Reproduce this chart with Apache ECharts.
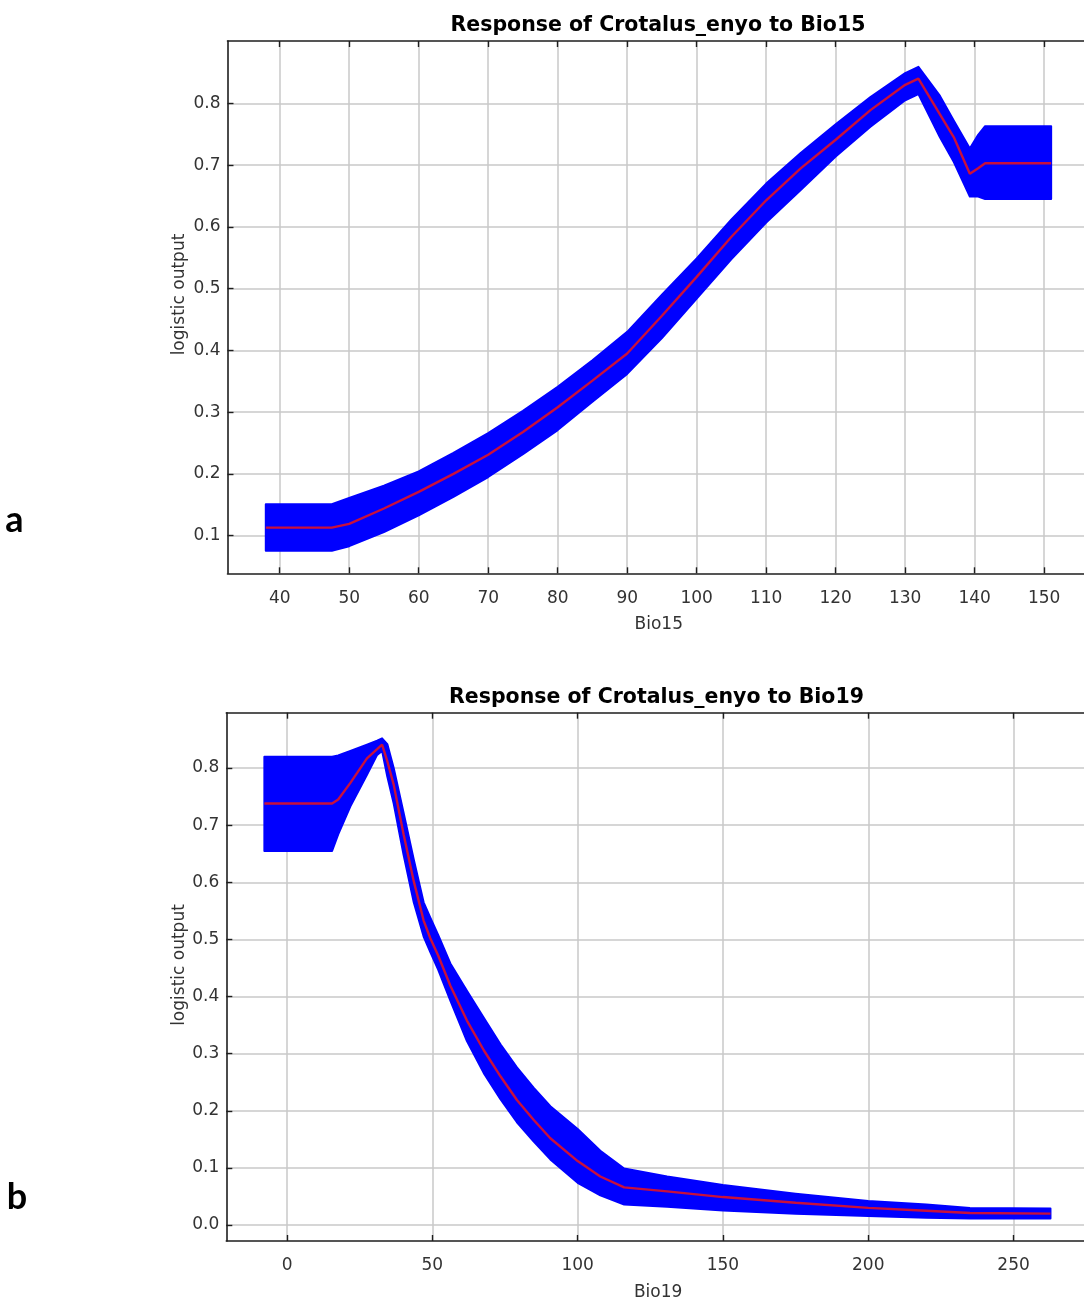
<!DOCTYPE html>
<html><head><meta charset="utf-8">
<script src="https://cdn.jsdelivr.net/npm/echarts@6/dist/echarts.min.js"></script>
<style>html,body{margin:0;padding:0;background:#fff;overflow:hidden}#c{width:1092px;height:1302px}</style>
</head><body><div id="c"></div>
<script>
// ---------- Panel a : Bio15 ----------
const bio15X     = [38, 47.5, 50, 55, 60, 65, 70, 75, 80, 85, 90, 95, 100, 105, 110, 115, 120, 125, 130, 131.9, 135, 137, 139.3, 140.5, 141.5, 151];
const bio15Mean  = [0.113, 0.113, 0.119, 0.144, 0.171, 0.200, 0.231, 0.268, 0.308, 0.351, 0.395, 0.456, 0.519, 0.584, 0.643, 0.695, 0.741, 0.789, 0.830, 0.840, 0.782, 0.745, 0.686, 0.695, 0.703, 0.703];
const bio15Upper = [0.151, 0.151, 0.161, 0.181, 0.204, 0.234, 0.266, 0.302, 0.341, 0.384, 0.430, 0.490, 0.549, 0.612, 0.670, 0.720, 0.766, 0.810, 0.849, 0.859, 0.812, 0.772, 0.727, 0.749, 0.763, 0.763];
const bio15Lower = [0.0757, 0.0757, 0.083, 0.106, 0.133, 0.163, 0.195, 0.232, 0.271, 0.317, 0.362, 0.420, 0.484, 0.548, 0.607, 0.660, 0.714, 0.762, 0.805, 0.815, 0.745, 0.705, 0.649, 0.649, 0.645, 0.645];
const bio15XTicks = [40, 50, 60, 70, 80, 90, 100, 110, 120, 130, 140, 150];
const bio15YTicks = [0.1, 0.2, 0.3, 0.4, 0.5, 0.6, 0.7, 0.8];

// ---------- Panel b : Bio19 ----------
const bio19X     = [-7.8, 15.5, 17.6, 21.8, 27.5, 31.0, 32.7, 34.5, 36.7, 40.1, 43.6, 47.0, 49.3, 52.0, 56.2, 61.9, 67.7, 73.5, 79.1, 84.9, 90.6, 100, 107.8, 116, 130.8, 150, 175, 200, 220, 235, 262.7];
const bio19Mean  = [0.738, 0.738, 0.745, 0.774, 0.817, 0.833, 0.841, 0.812, 0.771, 0.684, 0.602, 0.533, 0.502, 0.472, 0.419, 0.358, 0.306, 0.260, 0.219, 0.184, 0.152, 0.112, 0.085, 0.066, 0.059, 0.049, 0.039, 0.030, 0.025, 0.021, 0.020];
const bio19Upper = [0.820, 0.820, 0.822, 0.830, 0.841, 0.848, 0.852, 0.842, 0.800, 0.722, 0.640, 0.565, 0.538, 0.508, 0.458, 0.410, 0.363, 0.316, 0.276, 0.240, 0.208, 0.168, 0.130, 0.099, 0.085, 0.070, 0.055, 0.042, 0.036, 0.030, 0.029];
const bio19Lower = [0.655, 0.655, 0.684, 0.733, 0.788, 0.823, 0.830, 0.785, 0.738, 0.648, 0.565, 0.505, 0.478, 0.447, 0.393, 0.322, 0.266, 0.220, 0.180, 0.146, 0.115, 0.074, 0.052, 0.036, 0.032, 0.0255, 0.020, 0.0157, 0.013, 0.0115, 0.0115];
const bio19XTicks = [0, 50, 100, 150, 200, 250];
const bio19YTicks = [0.0, 0.1, 0.2, 0.3, 0.4, 0.5, 0.6, 0.7, 0.8];

const titles = ['Response of Crotalus_enyo to Bio15', 'Response of Crotalus_enyo to Bio19'];
const xNames = ['Bio15', 'Bio19'];
const yName = 'logistic output';
const panelLabels = ['a', 'b'];

const FONT = 'DejaVu Sans';
const AXIS_COLOR = '#1e1e1e';
const GRID_COLOR = '#c8c8c8';
const BAND = '#0000ff';
const MEAN = '#c8103c';

const chart = echarts.init(document.getElementById('c'), null, {renderer: 'canvas'});

function xAxes(gi, min, max, ticks, name) {
  return [{
    gridIndex: gi, type: 'value', position: 'bottom', min, max,
    name, nameLocation: 'middle', nameGap: 43,
    nameTextStyle: {fontFamily: FONT, fontSize: 17, color: '#333'},
    axisLine: {show: true, onZero: false, lineStyle: {color: AXIS_COLOR, width: 1.6}},
    axisTick: {show: true, inside: true, length: 6, customValues: ticks, lineStyle: {color: AXIS_COLOR, width: 1.4}},
    axisLabel: {show: true, customValues: ticks, margin: 16.5, fontFamily: FONT, fontSize: 17, color: '#333',
      formatter: v => String(v)},
    splitLine: {show: true, lineStyle: {color: GRID_COLOR, width: 1.5}}
  }, {
    gridIndex: gi, type: 'value', position: 'top', min, max,
    axisLine: {show: true, onZero: false, lineStyle: {color: AXIS_COLOR, width: 1.6}},
    axisTick: {show: true, inside: true, length: 6, customValues: ticks, lineStyle: {color: AXIS_COLOR, width: 1.4}},
    axisLabel: {show: false}, splitLine: {show: false}
  }];
}
function yAxes(gi, min, max, ticks) {
  return [{
    gridIndex: gi, type: 'value', position: 'left', min, max,
    axisLine: {show: true, onZero: false, lineStyle: {color: AXIS_COLOR, width: 1.6}},
    axisTick: {show: true, inside: true, length: 6, customValues: ticks, lineStyle: {color: AXIS_COLOR, width: 1.4}},
    axisLabel: {show: true, customValues: ticks, margin: 7, padding: [5, 0, 0, 0], fontFamily: FONT, fontSize: 17, color: '#333',
      formatter: v => v.toFixed(1)},
    splitLine: {show: true, lineStyle: {color: GRID_COLOR, width: 1.5}}
  }, {
    gridIndex: gi, type: 'value', position: 'right', min, max,
    axisLine: {show: true, onZero: false, lineStyle: {color: AXIS_COLOR, width: 1.6}},
    axisTick: {show: true, inside: true, length: 6, customValues: ticks, lineStyle: {color: AXIS_COLOR, width: 1.4}},
    axisLabel: {show: false}, splitLine: {show: false}
  }];
}

function bandSeries(xi, yi, xs, up, lo) {
  return {
    type: 'custom', xAxisIndex: xi, yAxisIndex: yi, silent: true, clip: true, z: 2,
    data: [[xs[0], up[0]]],
    renderItem: function (params, api) {
      const pts = [];
      for (let i = 0; i < xs.length; i++) pts.push(api.coord([xs[i], up[i]]));
      for (let i = xs.length - 1; i >= 0; i--) pts.push(api.coord([xs[i], lo[i]]));
      return {type: 'polygon', shape: {points: pts},
        style: {fill: BAND, stroke: BAND, lineWidth: 2, lineJoin: 'round'}};
    }
  };
}
function meanSeries(xi, yi, xs, m) {
  return {
    type: 'line', xAxisIndex: xi, yAxisIndex: yi, z: 3, silent: true,
    showSymbol: false, symbol: 'none',
    data: xs.map((x, i) => [x, m[i]]),
    lineStyle: {color: MEAN, width: 2.4}
  };
}

const option = {
  animation: false,
  backgroundColor: '#ffffff',
  grid: [
    {left: 227.5, top: 41, width: 862.5, height: 532.3},
    {left: 226.3, top: 712.7, width: 863.7, height: 530.6}
  ],
  xAxis: [
    ...xAxes(0, 32.49, 156.59, bio15XTicks, xNames[0]),
    ...xAxes(1, -20.9, 276.3, bio19XTicks, xNames[1])
  ],
  yAxis: [
    ...yAxes(0, 0.0391, 0.9009, bio15YTicks),
    ...yAxes(1, -0.0279, 0.8969, bio19YTicks)
  ],
  series: [
    bandSeries(0, 0, bio15X, bio15Upper, bio15Lower),
    meanSeries(0, 0, bio15X, bio15Mean),
    bandSeries(2, 2, bio19X, bio19Upper, bio19Lower),
    meanSeries(2, 2, bio19X, bio19Mean)
  ],
  graphic: [
    {type: 'text', x: 658, y: 25.5, style: {text: titles[0], align: 'center', verticalAlign: 'middle',
      font: 'bold 20.5px "DejaVu Sans"', fill: '#000'}},
    {type: 'text', x: 656.5, y: 697.5, style: {text: titles[1], align: 'center', verticalAlign: 'middle',
      font: 'bold 20.5px "DejaVu Sans"', fill: '#000'}},
    {type: 'text', x: 179.5, y: 294.5, rotation: Math.PI / 2, style: {text: yName, align: 'center', verticalAlign: 'middle',
      font: '17px "DejaVu Sans"', fill: '#333'}},
    {type: 'text', x: 179.5, y: 965, rotation: Math.PI / 2, style: {text: yName, align: 'center', verticalAlign: 'middle',
      font: '17px "DejaVu Sans"', fill: '#333'}},
    {type: 'text', x: 14.5, y: 520, style: {text: panelLabels[0], align: 'center', verticalAlign: 'middle',
      font: 'bold 36px "Lato"', fill: '#000'}},
    {type: 'text', x: 17, y: 1197, style: {text: panelLabels[1], align: 'center', verticalAlign: 'middle',
      font: 'bold 36px "Lato"', fill: '#000'}}
  ]
};
chart.setOption(option);
</script>
</body></html>
